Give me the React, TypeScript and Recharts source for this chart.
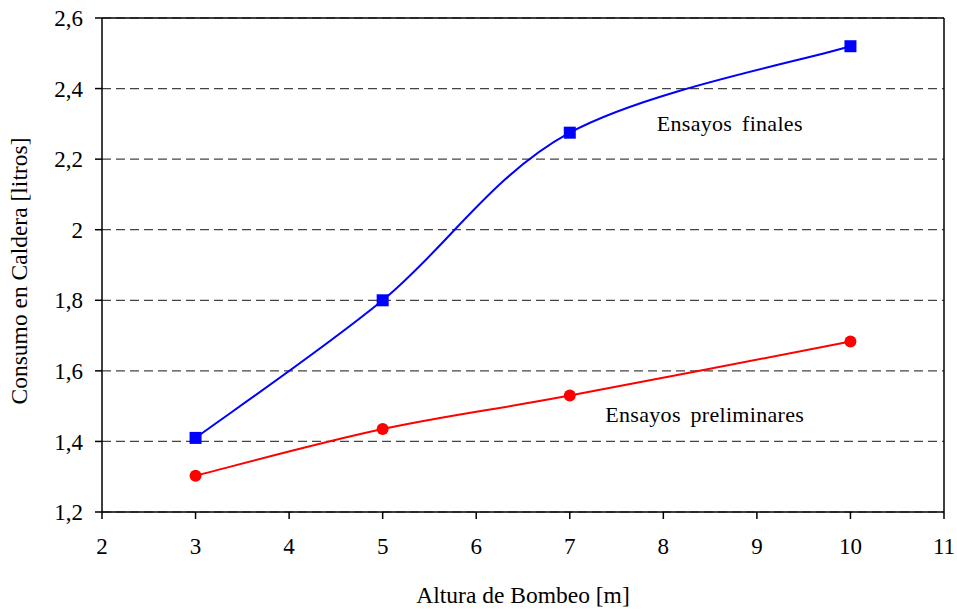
import {
  CartesianGrid,
  Line,
  LineChart,
  ReferenceDot,
  ReferenceLine,
  XAxis,
  YAxis,
} from 'recharts';

const alturas = [3, 5, 7, 10];
const finales = [1.41, 1.8, 2.275, 2.52];
const preliminares = [1.303, 1.435, 1.53, 1.683];
const xTicks = [2, 3, 4, 5, 6, 7, 8, 9, 10, 11];
const yTicks = [1.2, 1.4, 1.6, 1.8, 2, 2.2, 2.4, 2.6];

const data = alturas.map((h, i) => ({
  h,
  finales: finales[i],
  preliminares: preliminares[i],
}));

const font = 'Liberation Serif';
const textStyle = { fontFamily: font, fontSize: 23, fill: '#000' };
const titleStyle = { ...textStyle, fontSize: 23.5 };
const fmt = (v: number) => String(v).replace('.', ',');

// Excel-style smoothed line (Catmull-Rom as cubic Bezier)
const excelCurve = (context: any) => {
  let pts: number[][] = [];
  return {
    areaStart() {},
    areaEnd() {},
    lineStart() {
      pts = [];
    },
    point(x: number, y: number) {
      pts.push([+x, +y]);
    },
    lineEnd() {
      const n = pts.length;
      if (!n) return;
      context.moveTo(pts[0][0], pts[0][1]);
      for (let i = 0; i < n - 1; i++) {
        const p0 = pts[Math.max(i - 1, 0)];
        const p1 = pts[i];
        const p2 = pts[i + 1];
        const p3 = pts[Math.min(i + 2, n - 1)];
        context.bezierCurveTo(
          p1[0] + (p2[0] - p0[0]) / 6,
          p1[1] + (p2[1] - p0[1]) / 6,
          p2[0] - (p3[0] - p1[0]) / 6,
          p2[1] - (p3[1] - p1[1]) / 6,
          p2[0],
          p2[1]
        );
      }
    },
  };
};

const Square = ({ cx, cy, index }: any) => (
  <rect key={index} x={cx - 6} y={cy - 6} width={12} height={12} fill='#0000FF' />
);

const Circle = ({ cx, cy, index }: any) => (
  <circle key={index} cx={cx} cy={cy} r={6} fill='#FF0000' />
);

const textLabel = (value: string) => (props: any) => {
  const { viewBox } = props;
  return (
    <text
      x={viewBox.x}
      y={viewBox.y}
      textAnchor='start'
      dominantBaseline='central'
      fontFamily={font}
      fontSize={22}
      fill='#000'
      wordSpacing={4}
      letterSpacing={0.3}>
      {value}
    </text>
  );
};

export default function App() {
  return (
    <div style={{ position: 'absolute', left: 0, top: 0 }}>
      <LineChart
        width={957}
        height={610}
        data={data}
        margin={{ top: 18, right: 13, left: 0, bottom: 0 }}>
        <CartesianGrid
          vertical={false}
          strokeDasharray='9 5'
          stroke='#444'
          strokeWidth={1.2}
        />
        <XAxis
          dataKey='h'
          type='number'
          domain={[2, 11]}
          ticks={xTicks}
          stroke='#000'
          strokeWidth={1.5}
          tickSize={7}
          tickMargin={19}
          height={98}
          tick={textStyle}
          label={{
            value: 'Altura de Bombeo [m]',
            position: 'insideBottom',
            offset: 7,
            ...titleStyle,
          }}
        />
        <YAxis
          type='number'
          domain={[1.2, 2.6]}
          ticks={yTicks}
          tickFormatter={fmt}
          stroke='#000'
          strokeWidth={1.5}
          tickSize={7}
          tickMargin={12}
          width={102}
          tick={textStyle}
          label={{
            value: 'Consumo en Caldera [litros]',
            angle: -90,
            position: 'insideLeft',
            offset: 19,
            dy: 6,
            style: { textAnchor: 'middle' },
            ...titleStyle,
          }}
        />
        <ReferenceLine y={2.6} stroke='#000' strokeWidth={1.5} />
        <ReferenceLine x={11} stroke='#000' strokeWidth={1.5} />
        <Line
          type={excelCurve as any}
          dataKey='finales'
          stroke='#0000FF'
          strokeWidth={2}
          dot={Square}
          activeDot={false}
          isAnimationActive={false}
        />
        <Line
          type={excelCurve as any}
          dataKey='preliminares'
          stroke='#FF0000'
          strokeWidth={2}
          dot={Circle}
          activeDot={false}
          isAnimationActive={false}
        />
        <ReferenceDot
          x={7.93}
          y={2.3}
          r={0}
          ifOverflow='visible'
          label={textLabel('Ensayos finales')}
        />
        <ReferenceDot
          x={7.38}
          y={1.477}
          r={0}
          ifOverflow='visible'
          label={textLabel('Ensayos preliminares')}
        />
      </LineChart>
    </div>
  );
}
